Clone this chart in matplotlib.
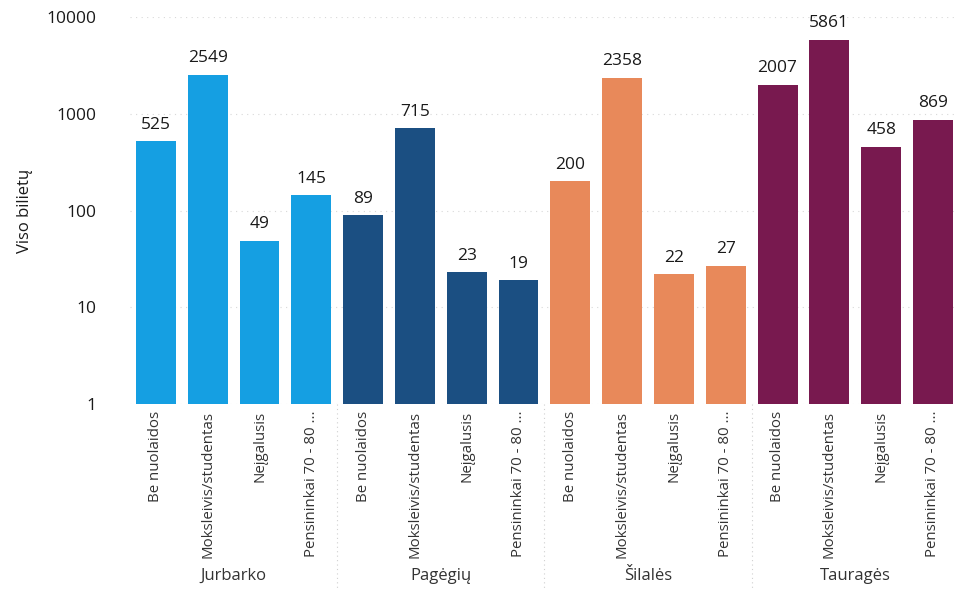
import numpy as np
import matplotlib.pyplot as plt

plt.rcParams['font.family'] = ['Open Sans', 'DejaVu Sans']

# data
groups = ['Jurbarko', 'Pagėgių', 'Šilalės', 'Tauragės']
categories = ['Be nuolaidos', 'Moksleivis/studentas', 'Neįgalusis', 'Pensininkai 70 - 80 ...']
jurbarko = [525, 2549, 49, 145]
pagegiu = [89, 715, 23, 19]
silales = [200, 2358, 22, 27]
taurages = [2007, 5861, 458, 869]
colors = ['#159fe2', '#1b4f82', '#e8895a', '#78194f']

def main():
    fig = plt.figure(figsize=(9.56, 5.89), dpi=100)
    ax = fig.add_axes([0.136, 0.314, 0.867, 0.657])

    series = [jurbarko, pagegiu, silales, taurages]
    n = len(categories)
    for g, (vals, col) in enumerate(zip(series, colors)):
        x = np.arange(n) + g * n
        bars = ax.bar(x, vals, width=0.77, color=col, zorder=2)
        for b, v in zip(bars, vals):
            ax.annotate(str(v), (b.get_x() + b.get_width() / 2, v),
                        xytext=(0, 6), textcoords='offset points',
                        ha='center', va='bottom', fontsize=12.5, color='#1a1a1a')

    ax.set_yscale('log')
    ax.set_ylim(1, 10000)
    ax.set_xlim(-0.5, len(groups) * n - 0.5)
    ax.set_yticks([1, 10, 100, 1000, 10000])
    ax.set_yticklabels(['1', '10', '100', '1000', '10000'])
    ax.minorticks_off()
    ax.tick_params(axis='y', length=0, pad=24, labelsize=12.5, labelcolor='#1a1a1a')
    ax.grid(axis='y', color='#d8d8d8', linestyle=(0, (1, 4)), linewidth=0.8, zorder=0)

    ax.set_xticks(np.arange(len(groups) * n))
    ax.set_xticklabels(categories * len(groups), rotation=90, fontsize=10.8, color='#333333')
    ax.tick_params(axis='x', length=0, pad=5)

    for s in ax.spines.values():
        s.set_visible(False)

    ax.set_ylabel('Viso bilietų', fontsize=12, fontweight='medium', color='#1a1a1a')
    ax.yaxis.set_label_coords(-0.117, 0.5)

    # group labels and separators
    for g, name in enumerate(groups):
        ax.text(g * n + (n - 1) / 2, -0.444, name, transform=ax.get_xaxis_transform(),
                ha='center', va='center', fontsize=12, color='#333333')
        if g > 0:
            ax.plot([g * n - 0.5, g * n - 0.5], [0, -0.49], transform=ax.get_xaxis_transform(),
                    color='#d0d0d0', linestyle=(0, (1, 3)), linewidth=0.8, clip_on=False)

    fig.savefig('out.png', dpi=100)

if __name__ == '__main__':
    main()
